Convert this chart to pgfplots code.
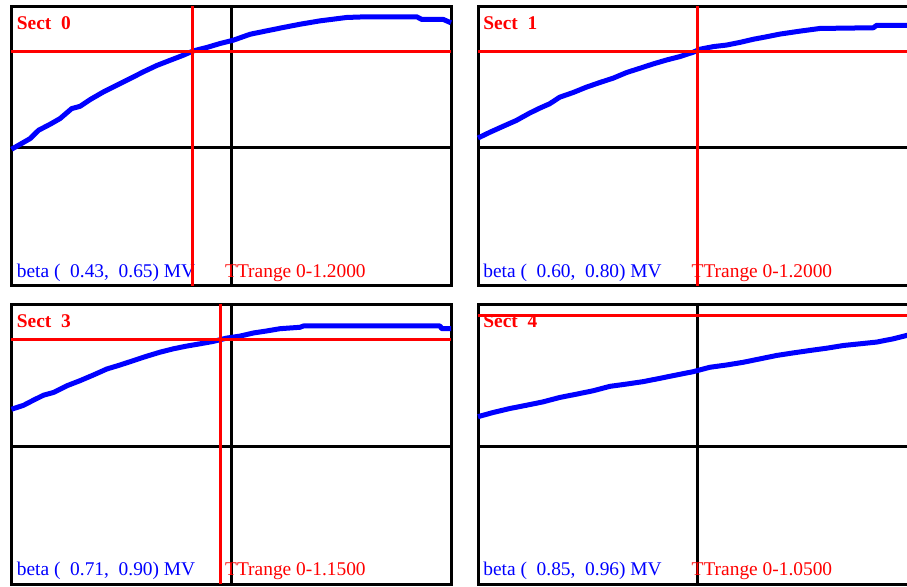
\documentclass[border=0pt]{standalone}
\usepackage{pgfplots}
\pgfplotsset{compat=1.18}
\usepackage{fontspec}
\setmainfont{Liberation Serif}

\definecolor{mvblue}{RGB}{0,0,255}
\definecolor{ttred}{RGB}{255,0,0}

% transit-time curves, normalised to the panel half-range
\pgfplotstableread{
x y
-1.000 -0.014
-0.961 0.021
-0.915 0.062
-0.877 0.121
-0.824 0.164
-0.779 0.204
-0.726 0.275
-0.688 0.291
-0.642 0.339
-0.582 0.393
-0.521 0.441
-0.460 0.488
-0.400 0.536
-0.339 0.581
-0.278 0.618
-0.218 0.654
-0.172 0.685
-0.111 0.709
-0.051 0.737
0.010 0.761
0.086 0.803
0.161 0.827
0.237 0.851
0.313 0.874
0.404 0.898
0.525 0.922
0.616 0.927
0.844 0.927
0.867 0.908
0.965 0.908
1.000 0.884
}\sectzero

\pgfplotstableread{
x y
-1.000 0.066
-0.947 0.106
-0.886 0.149
-0.825 0.191
-0.765 0.243
-0.719 0.278
-0.674 0.309
-0.628 0.356
-0.567 0.389
-0.507 0.427
-0.446 0.460
-0.385 0.491
-0.324 0.531
-0.264 0.561
-0.203 0.592
-0.142 0.620
-0.082 0.644
-0.021 0.675
0.009 0.696
0.070 0.715
0.131 0.726
0.192 0.745
0.252 0.767
0.313 0.785
0.374 0.804
0.465 0.825
0.556 0.844
0.799 0.849
0.814 0.866
1.000 0.866
}\sectone

\pgfplotstableread{
x y
-1.000 0.264
-0.945 0.292
-0.900 0.328
-0.854 0.363
-0.809 0.382
-0.748 0.429
-0.688 0.465
-0.627 0.505
-0.566 0.547
-0.506 0.575
-0.445 0.606
-0.384 0.637
-0.324 0.665
-0.263 0.689
-0.202 0.708
-0.142 0.724
-0.081 0.741
-0.021 0.764
0.040 0.778
0.101 0.800
0.161 0.814
0.222 0.830
0.313 0.840
0.328 0.849
0.950 0.849
0.958 0.830
1.000 0.830
}\sectthree

\pgfplotstableread{
x y
-1.000 0.212
-0.932 0.241
-0.856 0.269
-0.780 0.292
-0.704 0.316
-0.628 0.347
-0.552 0.370
-0.476 0.394
-0.400 0.425
-0.324 0.441
-0.249 0.458
-0.173 0.481
-0.097 0.505
-0.021 0.528
0.055 0.559
0.131 0.575
0.207 0.594
0.283 0.618
0.359 0.642
0.435 0.660
0.511 0.677
0.587 0.693
0.663 0.712
0.739 0.724
0.814 0.736
0.890 0.759
0.952 0.783
1.000 0.800
}\sectfour

\pgfplotsset{
  sectpanel/.style={
    anchor=south west, scale only axis,
    width=439.5pt,
    xmin=-1, xmax=1, ymax=1,
    xtick=\empty, ytick=\empty,
    axis line style={line width=3pt, black},
    clip=false,
  },
  toprow/.style={height=279.5pt, ymin=-0.985},
  botrow/.style={height=280pt, ymin=-0.967},
}
\newcommand{\lbl}{\fontsize{19.4pt}{23pt}\selectfont}
\newcommand{\cross}{%
  \addplot[black, line width=3pt] coordinates {(-1,0) (1,0)};
  \addplot[black, line width=3pt] coordinates {(0,\pgfkeysvalueof{/pgfplots/ymin}) (0,1)};
}
\newcommand{\labels}[3]{%
  \node[anchor=base west, inner sep=0pt, xshift=5.2pt, yshift=-23.5pt, text=ttred]
    at (rel axis cs:0,1) {\lbl\bfseries Sect\ \ #1};
  \node[anchor=base west, inner sep=0pt, xshift=5.2pt, yshift=8.7pt, text=mvblue]
    at (rel axis cs:0,0) {\lbl beta (\ \ #2) MV};
  \node[anchor=base west, inner sep=0pt, xshift=213.5pt, yshift=8.7pt, text=ttred]
    at (rel axis cs:0,0) {\lbl TTrange 0-#3};
}

\begin{document}
\begin{tikzpicture}[x=1pt,y=1pt]
\path[use as bounding box] (0,0) rectangle (907,586);
\clip (0,0) rectangle (907,586);

% Sect 0
\begin{axis}[sectpanel, toprow, at={(11.5pt,300pt)}]
  \addplot[black, line width=3pt] coordinates {(-1,0) (1,0)};
  \addplot[black, line width=3pt] coordinates {(0,-0.985) (0,1)};
  \labels{0}{0.43,\ \ 0.65}{1.2000}
  \addplot[mvblue, line width=5pt, line join=round] table {\sectzero};
  \addplot[ttred, line width=3pt] coordinates {(-1,0.678) (1,0.678)};
  \addplot[ttred, line width=3pt] coordinates {(-0.175,-0.985) (-0.175,1)};
\end{axis}

% Sect 1
\begin{axis}[sectpanel, toprow, at={(478pt,300pt)}]
  \addplot[black, line width=3pt] coordinates {(-1,0) (1,0)};
  \addplot[black, line width=3pt] coordinates {(0,-0.985) (0,1)};
  \labels{1}{0.60,\ \ 0.80}{1.2000}
  \addplot[mvblue, line width=5pt, line join=round] table {\sectone};
  \addplot[ttred, line width=3pt] coordinates {(-1,0.679) (1,0.679)};
  \addplot[ttred, line width=3pt] coordinates {(0,-0.985) (0,1)};
\end{axis}

% Sect 3
\begin{axis}[sectpanel, botrow, at={(11.5pt,1.5pt)}]
  \addplot[black, line width=3pt] coordinates {(-1,0) (1,0)};
  \addplot[black, line width=3pt] coordinates {(0,-0.967) (0,1)};
  \labels{3}{0.71,\ \ 0.90}{1.1500}
  \addplot[mvblue, line width=5pt, line join=round] table {\sectthree};
  \addplot[ttred, line width=3pt] coordinates {(-1,0.752) (1,0.752)};
  \addplot[ttred, line width=3pt] coordinates {(-0.051,-0.967) (-0.051,1)};
\end{axis}

% Sect 4
\begin{axis}[sectpanel, botrow, at={(478pt,1.5pt)}]
  \addplot[black, line width=3pt] coordinates {(-1,0) (1,0)};
  \addplot[black, line width=3pt] coordinates {(0,-0.967) (0,1)};
  \labels{4}{0.85,\ \ 0.96}{1.0500}
  \addplot[mvblue, line width=5pt, line join=round] table {\sectfour};
  \addplot[ttred, line width=3pt] coordinates {(-1,0.925) (1,0.925)};
\end{axis}
\end{tikzpicture}
\end{document}
